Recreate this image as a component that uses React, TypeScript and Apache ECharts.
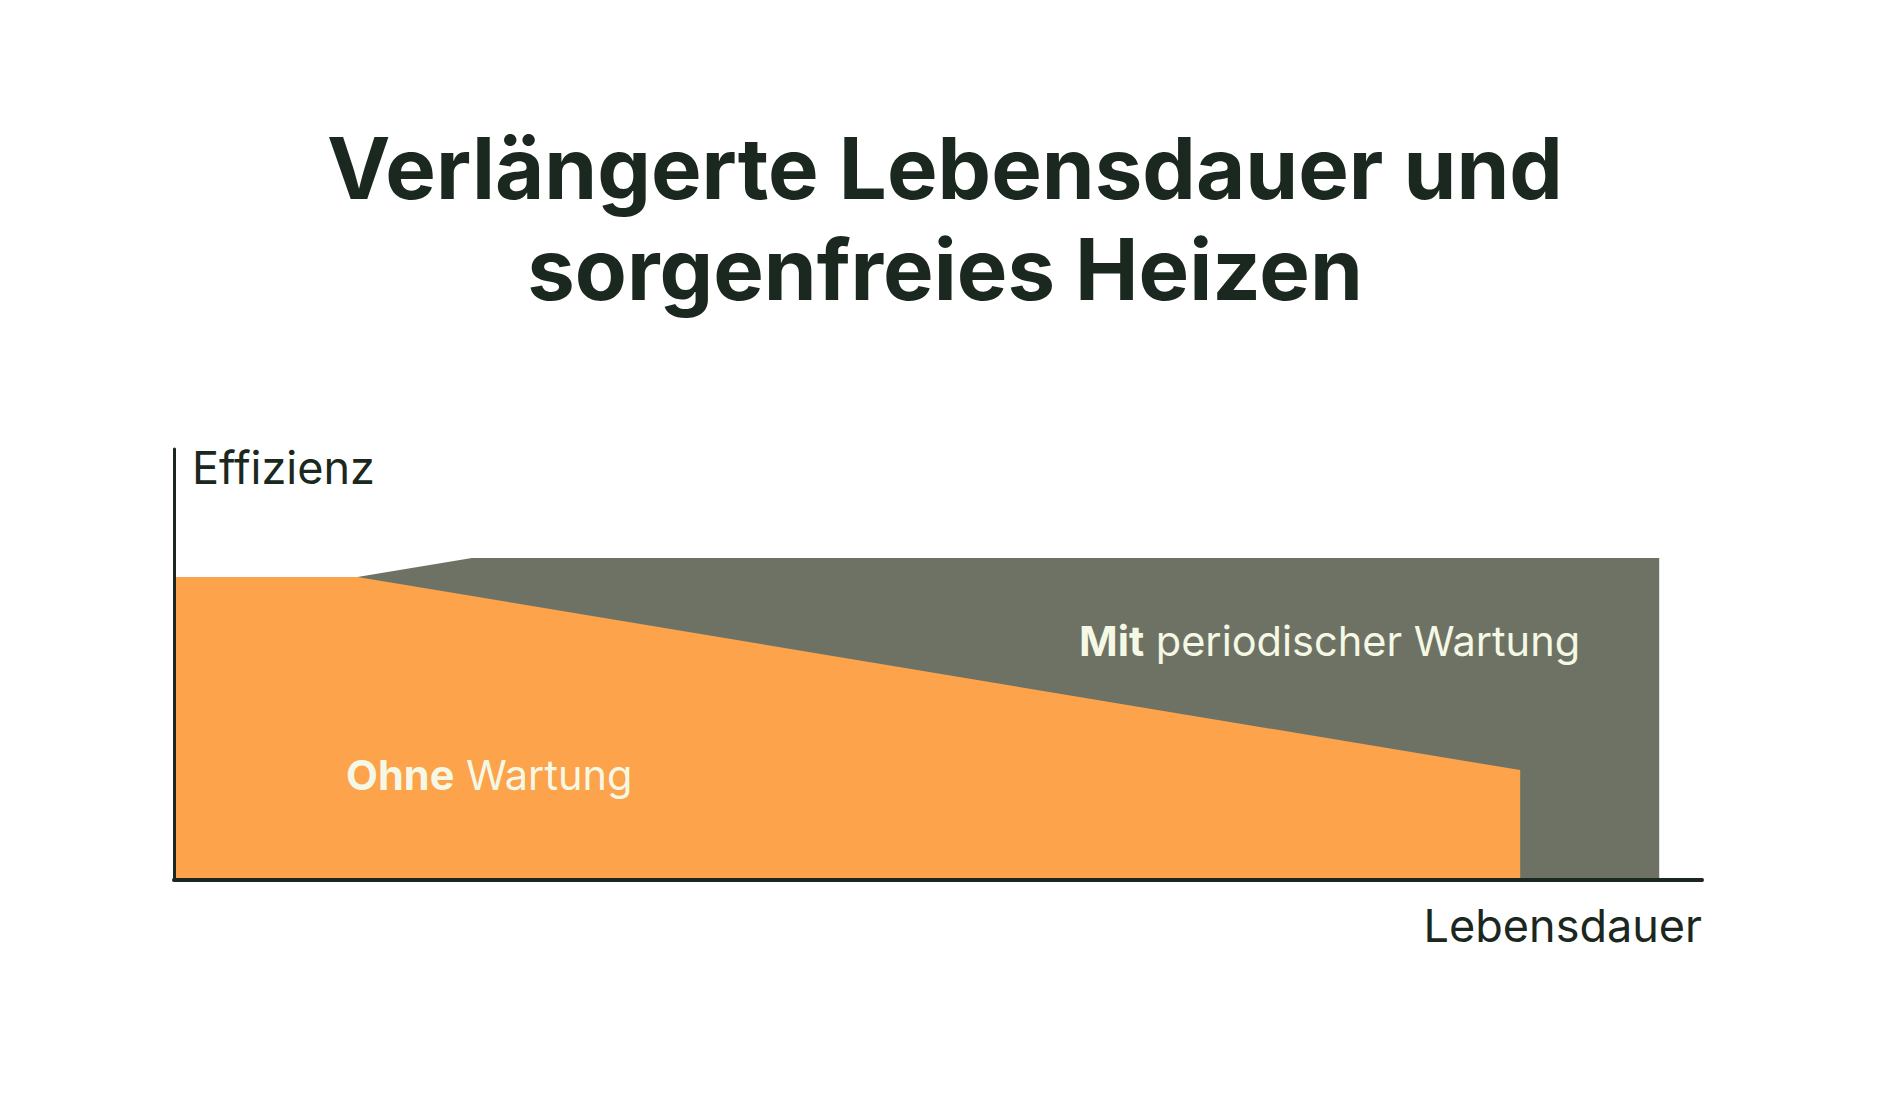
import React, { useEffect, useRef } from "react";
import * as echarts from "echarts";

// x: Lebensdauer (0..100), y: Effizienz (0..100)
const ohneWartung: [number, number][] = [
  [0, 70.3],
  [12.0, 70.3],
  [88.1, 25.5],
];
const mitWartung: [number, number][] = [
  [0, 70.3],
  [12.0, 70.3],
  [19.5, 74.7],
  [97.2, 74.7],
];

const TITLE = "Verlängerte Lebensdauer und\nsorgenfreies Heizen";
const DARK = "#1b2820";
const ORANGE = "#fda34c";
const GREY = "#6e7264";
const CREAM = "#f4f8e4";
const FONT = "Inter, 'Noto Sans', sans-serif";

const labelRich = {
  b: { fontFamily: FONT, fontSize: 41.5, fontWeight: 700, fill: CREAM },
  r: { fontFamily: FONT, fontSize: 41.5, fontWeight: 400, fill: CREAM },
};

const App: React.FC = () => {
  const chartRef = useRef<HTMLDivElement | null>(null);

  useEffect(() => {
    if (!chartRef.current) return;
    const chart = echarts.init(chartRef.current, undefined, { renderer: "svg" });

    const option = {
      animation: false,
      backgroundColor: "#ffffff",
      title: {
        text: TITLE,
        left: 940,
        top: 113,
        textAlign: "center",
        textStyle: {
          fontFamily: FONT,
          fontSize: 85,
          fontWeight: 700,
          color: DARK,
          lineHeight: 101,
        },
      },
      grid: {
        left: 174,
        right: 178,
        top: 449,
        bottom: 220,
      },
      xAxis: {
        type: "value",
        min: 0,
        max: 100,
        z: 5,
        name: "Lebensdauer",
        nameLocation: "end",
        nameGap: 0,
        nameTextStyle: {
          fontFamily: FONT,
          fontSize: 45,
          color: DARK,
          align: "right",
          verticalAlign: "top",
          padding: [23, 0, 0, 0],
        },
        axisLine: { show: true, lineStyle: { color: DARK, width: 4 } },
        axisTick: { show: false },
        axisLabel: { show: false },
        splitLine: { show: false },
      },
      yAxis: {
        type: "value",
        min: 0,
        max: 100,
        z: 5,
        name: "Effizienz",
        nameLocation: "end",
        nameGap: -18,
        nameTextStyle: {
          fontFamily: FONT,
          fontSize: 45,
          color: DARK,
          align: "left",
          verticalAlign: "middle",
          padding: [0, 0, 0, 18],
        },
        axisLine: { show: true, lineStyle: { color: DARK, width: 3 } },
        axisTick: { show: false },
        axisLabel: { show: false },
        splitLine: { show: false },
      },
      series: [
        {
          name: "Mit periodischer Wartung",
          type: "line",
          data: mitWartung,
          showSymbol: false,
          lineStyle: { width: 0 },
          areaStyle: { color: GREY, opacity: 1 },
          z: 1,
        },
        {
          name: "Ohne Wartung",
          type: "line",
          data: ohneWartung,
          showSymbol: false,
          lineStyle: { width: 0 },
          areaStyle: { color: ORANGE, opacity: 1 },
          z: 2,
        },
      ],
      graphic: [
        {
          type: "text",
          left: 346,
          top: 754,
          z: 10,
          style: {
            text: "{b|Ohne}{r| Wartung}",
            fill: CREAM,
            rich: labelRich,
          },
        },
        {
          type: "text",
          left: 1079,
          top: 620,
          z: 10,
          style: {
            text: "{b|Mit}{r| periodischer Wartung}",
            fill: CREAM,
            rich: labelRich,
          },
        },
      ],
    };

    chart.setOption(option);
    return () => {
      chart.dispose();
    };
  }, []);

  return (
    <div
      ref={chartRef}
      style={{
        position: "fixed",
        left: 0,
        top: 0,
        width: 1880,
        height: 1100,
        background: "#ffffff",
      }}
    />
  );
};

export default App;
